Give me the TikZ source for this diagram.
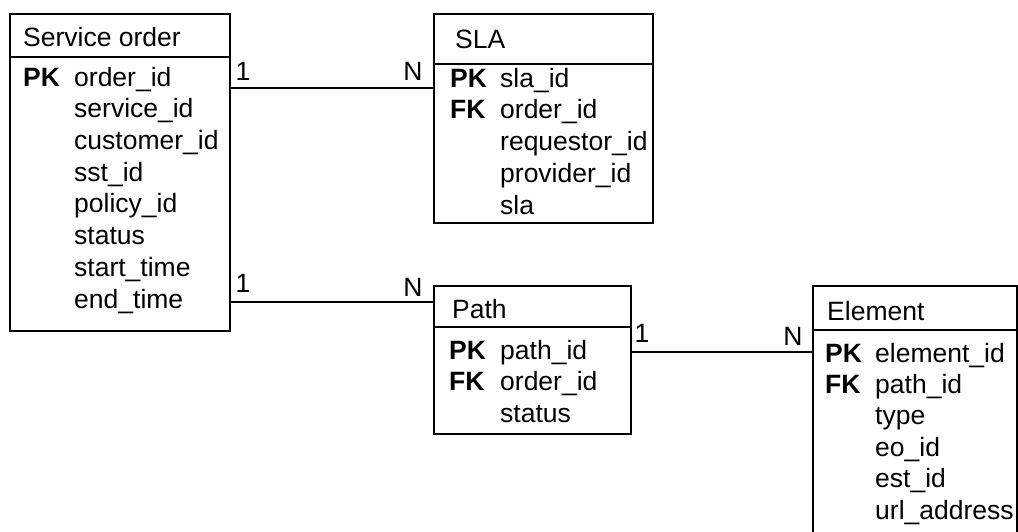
\documentclass[tikz,border=0pt]{standalone}
\usepackage{fontspec}
\setmainfont{Liberation Sans}
\begin{document}
\begin{tikzpicture}[x=1pt,y=-1pt,
  tbl/.style={draw, line width=1.6pt, rectangle, inner sep=0pt, anchor=north west},
  fld/.style={anchor=base west, inner sep=0pt, font=\fontsize{26.5}{30}\selectfont},
  key/.style={anchor=base west, inner sep=0pt, font=\fontsize{26.5}{30}\selectfont\bfseries},
  lbl/.style={anchor=base, inner sep=0pt, font=\fontsize{26.5}{30}\selectfont},
  link/.style={line width=1.6pt}]
\useasboundingbox (0,0) rectangle (1018,531);

% ---------- Service order ----------
\node[tbl, minimum width=220pt, minimum height=317pt] (so) at (9,13) {};
\coordinate (soh) at (0,57);
\draw[link] (so.west |- soh) -- (so.east |- soh);
\node[fld] (sot) at (23,46) {Service order};
\node[key] (sopk) at (23,86) {PK};
\node[fld] (so1) at (74,86) {order\_id};
\node[fld] (so2) at (74,117.7) {service\_id};
\node[fld] (so3) at (74,149.4) {customer\_id};
\node[fld] (so4) at (74,181.1) {sst\_id};
\node[fld] (so5) at (74,212.8) {policy\_id};
\node[fld] (so6) at (74,244.5) {status};
\node[fld] (so7) at (74,276.2) {start\_time};
\node[fld] (so8) at (74,308) {end\_time};

% ---------- SLA ----------
\node[tbl, minimum width=219pt, minimum height=209pt] (sla) at (433,13) {};
\coordinate (slah) at (0,64);
\draw[link] (sla.west |- slah) -- (sla.east |- slah);
\node[fld] (slat) at (455,48) {SLA};
\node[key] (slapk) at (450,87) {PK};
\node[key] (slafk) at (450,118.8) {FK};
\node[fld] (sla1) at (500,87) {sla\_id};
\node[fld] (sla2) at (500,118.8) {order\_id};
\node[fld] (sla3) at (500,150.5) {requestor\_id};
\node[fld] (sla4) at (500,182.2) {provider\_id};
\node[fld] (sla5) at (500,214) {sla};

% ---------- Path ----------
\node[tbl, minimum width=197pt, minimum height=148pt] (path) at (433,285) {};
\coordinate (pathh) at (0,327);
\draw[link] (path.west |- pathh) -- (path.east |- pathh);
\node[fld] (patht) at (452,318) {Path};
\node[key] (pathpk) at (449,359) {PK};
\node[key] (pathfk) at (449,390.5) {FK};
\node[fld] (path1) at (500,359) {path\_id};
\node[fld] (path2) at (500,390.5) {order\_id};
\node[fld] (path3) at (500,422) {status};

% ---------- Element ----------
\node[tbl, minimum width=204pt, minimum height=260pt] (el) at (812,285) {};
\coordinate (elh) at (0,330);
\draw[link] (el.west |- elh) -- (el.east |- elh);
\node[fld] (elt) at (827,320) {Element};
\node[key] (elpk) at (825,362) {PK};
\node[key] (elfk) at (825,393.4) {FK};
\node[fld] (el1) at (875,362) {element\_id};
\node[fld] (el2) at (875,393.4) {path\_id};
\node[fld] (el3) at (875,424.8) {type};
\node[fld] (el4) at (875,456.2) {eo\_id};
\node[fld] (el5) at (875,487.6) {est\_id};
\node[fld] (el6) at (875,519) {url\_address};

% ---------- Relationships ----------
\coordinate (r1) at (0,88);
\draw[link] (so.east |- r1) -- (sla.west |- r1);
\node[lbl] (r1a) at (243,80) {1};
\node[lbl] (r1b) at (413,80) {N};

\coordinate (r2) at (0,302);
\draw[link] (so.east |- r2) -- (path.west |- r2);
\node[lbl] (r2a) at (243,292) {1};
\node[lbl] (r2b) at (413,296) {N};

\coordinate (r3) at (0,352);
\draw[link] (path.east |- r3) -- (el.west |- r3);
\node[lbl] (r3a) at (642,342) {1};
\node[lbl] (r3b) at (793,345) {N};
\end{tikzpicture}
\end{document}
